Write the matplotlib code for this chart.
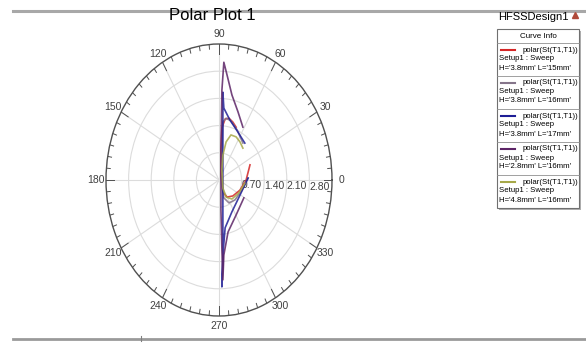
import numpy as np
import matplotlib
matplotlib.use("Agg")
import matplotlib.pyplot as plt
from matplotlib.patches import Rectangle
from matplotlib.lines import Line2D

plt.rcParams["font.family"] = ["Liberation Sans", "DejaVu Sans"]

red_re = [0.96, 0.84, 0.65, 0.43, 0.25, 0.12, 0.06, 0.06, 0.09, 0.19, 0.31, 0.43, 0.53]
red_im = [0.39, 0.00, -0.26, -0.41, -0.44, -0.31, 0.13, 0.77, 1.34, 1.57, 1.59, 1.49, 1.36]

gray_re = [0.74, 0.56, 0.37, 0.22, 0.12, 0.09, 0.09, 0.15, 0.31, 0.50, 0.71, 0.90]
gray_im = [0.95, 1.29, 1.52, 1.59, 1.49, 0.77, -0.13, -0.46, -0.59, -0.51, -0.26, 0.05]

blue_re = [0.90, 0.65, 0.40, 0.19, 0.12, 0.09, 0.12, 0.12, 0.12, 0.12, 0.12, 0.15, 0.34, 0.59, 0.80]
blue_im = [0.05, -0.39, -0.82, -1.23, -1.93, -2.75, -2.06, -0.51, 0.77, 1.80, 2.26, 1.85, 1.54, 1.23, 0.95]

purple_re = [0.74, 0.59, 0.40, 0.25, 0.15, 0.09, 0.06, 0.06, 0.09, 0.12, 0.15, 0.28, 0.53, 0.77]
purple_im = [1.36, 1.75, 2.19, 2.70, 3.03, 2.31, 0.77, -0.77, -1.80, -2.57, -1.93, -1.34, -0.90, -0.46]

olive_re = [0.80, 0.62, 0.40, 0.22, 0.12, 0.09, 0.12, 0.22, 0.37, 0.53, 0.65, 0.74]
olive_im = [-0.08, -0.33, -0.49, -0.44, -0.21, 0.26, 0.64, 0.98, 1.16, 1.11, 0.98, 0.82]

curve_names = ["polar(St(T1,T1))"] * 5
sweep_names = ["Setup1 : Sweep"] * 5
params = ["H='3.8mm' L='15mm'", "H='3.8mm' L='16mm'", "H='3.8mm' L='17mm'",
          "H='2.8mm' L='16mm'", "H='4.8mm' L='16mm'"]
colors = ["#d42626", "#85758a", "#1e1e96", "#5c2466", "#a6a848"]

r_ticks = [0.7, 1.4, 2.1, 2.8]
r_max = 3.5

W, H = 586, 343
fig = plt.figure(figsize=(W / 100, H / 100), dpi=100)

def fx(px):
    return px / W

def fy(py):
    return 1 - py / H

# window borders
fig.add_artist(Line2D([fx(13), 1], [fy(11), fy(11)], color="#a8a8a8", lw=2.2))
fig.add_artist(Line2D([fx(13), 1], [fy(339), fy(339)], color="#9a9a9a", lw=2.0))
fig.add_artist(Line2D([fx(141), fx(141)], [fy(336), fy(341)], color="#808080", lw=0.8))

ax = fig.add_axes([fx(106), fy(316), fx(332) - fx(106), (316 - 44) / H], projection="polar")
ax.set_aspect("auto")

traces = [(red_re, red_im), (gray_re, gray_im), (blue_re, blue_im),
          (purple_re, purple_im), (olive_re, olive_im)]
for (re, im), c in zip(traces, colors):
    z = np.array(re) + 1j * np.array(im)
    ax.plot(np.angle(z), np.abs(z), color=c, lw=1.2, alpha=0.85)

ax.set_ylim(0, r_max)
ax.set_rticks(r_ticks)
ax.set_yticklabels(["%.2f" % v for v in r_ticks], fontsize=7.5, color="#404040")
ax.set_rlabel_position(-1)
for lab in ax.get_yticklabels():
    lab.set_horizontalalignment("left")
    lab.set_verticalalignment("top")
ax.set_thetagrids(np.arange(0, 360, 30), [str(a) for a in range(0, 360, 30)],
                  fontsize=7.5, color="#404040")
ax.tick_params(axis="x", pad=-3.5)
ax.grid(color="#dcdcdc", lw=0.8)
ax.spines["polar"].set_color("#505050")
ax.spines["polar"].set_linewidth(1.0)

# small ticks on the outer ring
for a in range(0, 360, 5):
    t = np.deg2rad(a)
    inner = 3.25 if a % 30 == 0 else 3.38
    ax.plot([t, t], [inner, r_max], color="#505050", lw=0.7)

fig.text(fx(212), fy(15), "Polar Plot 1", ha="center", va="center", fontsize=12)

# legend panel
fig.text(fx(533), fy(17), "HFSSDesign1", ha="center", va="center", fontsize=8)
fig.add_artist(Line2D([fx(575)], [fy(15)], marker="^", color="#b04a3a", ms=5, ls=""))

x0, x1, y0, y1 = 497, 579, 29, 208
fig.add_artist(Rectangle((fx(x0 + 2), fy(y1 + 2)), fx(x1) - fx(x0), fy(y0) - fy(y1),
                         transform=fig.transFigure, fc="#b0b0b0", ec="none"))
fig.add_artist(Rectangle((fx(x0), fy(y1)), fx(x1) - fx(x0), fy(y0) - fy(y1),
                         transform=fig.transFigure, fc="white", ec="#707070", lw=0.8))
fig.text(fx((x0 + x1) / 2), fy(36), "Curve Info", ha="center", va="center", fontsize=5.8)
row_h = 33
for i in range(5):
    top = 43 + i * row_h
    fig.add_artist(Line2D([fx(x0), fx(x1)], [fy(top), fy(top)], color="#909090", lw=0.6))
    fig.add_artist(Line2D([fx(x0 + 4), fx(x0 + 18)], [fy(top + 7), fy(top + 7)],
                          color=colors[i], lw=1.5))
    fig.text(fx(x1 - 1), fy(top + 7), curve_names[i], ha="right", va="center", fontsize=5.6)
    fig.text(fx(x0 + 2), fy(top + 16), sweep_names[i], ha="left", va="center", fontsize=5.6)
    fig.text(fx(x0 + 2), fy(top + 25), params[i], ha="left", va="center", fontsize=5.6)

fig.savefig("out.png", dpi=100)
